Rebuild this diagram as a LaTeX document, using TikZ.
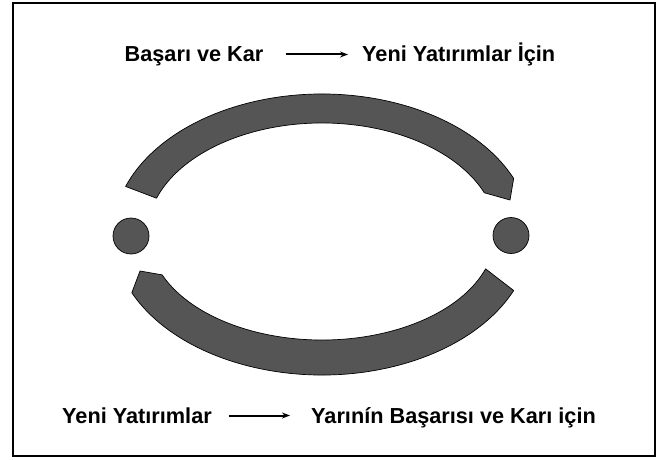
\documentclass[tikz,border=0pt]{standalone}
\usepackage{fontspec}
\setmainfont{Liberation Sans}
\usetikzlibrary{arrows.meta}
\definecolor{arcgray}{RGB}{85,85,85}
\begin{document}
\begin{tikzpicture}[x=1pt,y=1pt,
  lbl/.style={inner sep=0pt,anchor=base west,font=\fontsize{21.7}{26}\selectfont\bfseries},
  arr/.style={line width=2pt,-{Stealth[length=8pt,width=6pt]}},
  band/.style={fill=arcgray,draw=black,line width=0.7pt,line join=round},
  dot/.style={circle,fill=arcgray,draw=black,line width=0.7pt,minimum size=36pt,inner sep=0pt}]
\useasboundingbox (0,0) rectangle (661,459);
\draw[line width=1.8pt] (13,456) rectangle (655,3);
\coordinate (C) at (322,224.5);
% top band
\path[band] ([shift={(C)}]23.5:209 and 140.5)
  arc[start angle=23.5,end angle=160,x radius=209,y radius=140.5]
  -- ([shift={(C)}]161:175 and 111.5)
  arc[start angle=161,end angle=22,x radius=175,y radius=111.5]
  -- (510,259) -- cycle;
% bottom band
\path[band] ([shift={(C)}]204.5:209 and 140.5)
  arc[start angle=204.5,end angle=336.5,x radius=209,y radius=140.5]
  -- ([shift={(C)}]341:173 and 105.5)
  arc[start angle=341,end angle=202.5,x radius=173,y radius=105.5]
  -- (140,188) -- cycle;
% dots
\node[dot] (L) at (131,223) {};
\node[dot] (R) at (511,223.5) {};
% texts
\node[lbl] (t1) at (124.5,397) {Başarı ve Kar};
\node[lbl] (t2) at (362,397) {Yeni Yatırımlar İçin};
\draw[arr,shorten <=22pt,shorten >=14pt] ([yshift=7.5pt]t1.base east) -- ([yshift=7.5pt]t2.base west);
\node[lbl] (b1) at (62,36) {Yeni Yatırımlar};
\node[lbl] (b2) at (311,36) {Yarınín Başarısı ve Karı için};
\draw[arr,shorten <=17pt,shorten >=21pt] ([yshift=7.5pt]b1.base east) -- ([yshift=7.5pt]b2.base west);
\end{tikzpicture}
\end{document}
